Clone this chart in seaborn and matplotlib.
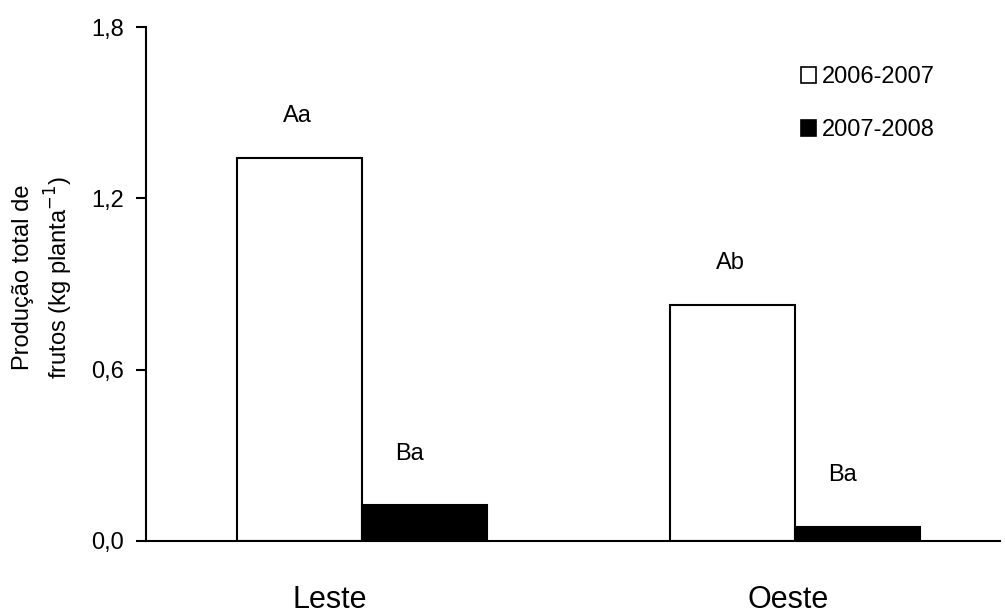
import pandas as pd
import matplotlib.pyplot as plt
from matplotlib.patches import Patch
import seaborn as sns

# data
locais = ['Leste', 'Oeste']
safras = ['2006-2007', '2007-2008']
prod_2006 = [1.34, 0.825]
prod_2007 = [0.125, 0.05]
letras_2006 = ['Aa', 'Ab']
letras_2007 = ['Ba', 'Ba']

df = pd.DataFrame({
    'local': locais * 2,
    'safra': [safras[0]] * 2 + [safras[1]] * 2,
    'producao': prod_2006 + prod_2007,
})

sns.set_theme(style='white')
plt.rcParams['font.family'] = ['Liberation Sans', 'DejaVu Sans']
plt.rcParams['text.color'] = 'black'

fig = plt.figure(figsize=(10.05, 6.14), dpi=100)
ax = fig.add_axes([0.1453, 0.1189, 0.8497, 0.8371])

cores = {safras[0]: 'white', safras[1]: 'black'}
sns.barplot(data=df, x='local', y='producao', hue='safra', hue_order=safras,
            palette=cores, width=0.578, edgecolor='black', linewidth=1.5,
            saturation=1, legend=False, ax=ax)

# significance letters above the bars
for cont, letras, off, dx in zip(ax.containers, [letras_2006, letras_2007],
                                 [0.15, 0.18], [-0.005, -0.035]):
    for bar, txt in zip(cont, letras):
        x = bar.get_x() + bar.get_width() / 2 + dx
        ax.text(x, bar.get_height() + off, txt, ha='center', va='center',
                fontsize=17, color='black')

ax.set_xlim(-0.5, 1.474)
ax.set_ylim(0, 1.8)
ax.set_yticks([0, 0.6, 1.2, 1.8])
ax.set_yticklabels(['0,0', '0,6', '1,2', '1,8'], fontsize=17)
ax.set_xticks([-0.076, 0.984])
ax.set_xticklabels(locais, fontsize=22)
ax.tick_params(axis='x', length=0, pad=32, colors='black')
ax.tick_params(axis='y', direction='out', length=7, width=1.5, left=True,
               pad=9, colors='black')
ax.set_xlabel('')
ax.set_ylabel('')
fig.text(0.043, 0.548, 'Produção total de\nfrutos (kg planta$^{-1}$)',
         rotation=90, ha='center', va='center', multialignment='center',
         fontsize=17, linespacing=1.35, color='black')
sns.despine(ax=ax)
for s in ['left', 'bottom']:
    ax.spines[s].set_color('black')
    ax.spines[s].set_linewidth(1.5)

handles = [Patch(facecolor='white', edgecolor='black', linewidth=1.2),
           Patch(facecolor='black', edgecolor='black', linewidth=1.2)]
ax.legend(handles, safras, frameon=False, fontsize=17, handlelength=0.65,
          handleheight=0.65, handletextpad=0.25, labelspacing=1.3,
          borderpad=0, borderaxespad=0, labelcolor='black',
          loc='upper left', bbox_to_anchor=(0.797, 0.892),
          bbox_transform=fig.transFigure)

fig.savefig('out.png', dpi=100)
